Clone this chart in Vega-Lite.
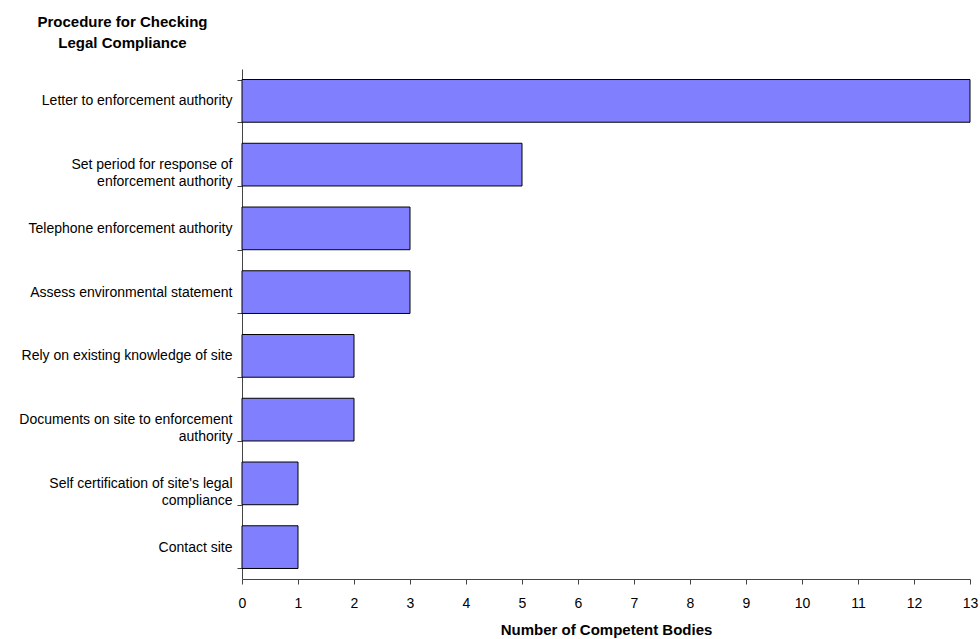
{
  "$schema": "https://vega.github.io/schema/vega-lite/v6.json",
  "width": 728,
  "height": 510,
  "autosize": {"type": "none"},
  "padding": {"left": 242, "top": 69, "right": 10, "bottom": 60},
  "background": "white",
  "config": {
    "view": {"stroke": null},
    "font": "Liberation Sans",
    "axis": {"grid": false, "domainColor": "#444", "tickColor": "#444", "labelColor": "black", "titleColor": "black", "labelFont": "Liberation Sans", "titleFont": "Liberation Sans", "labelFontSize": 14, "titleFontSize": 15, "titleFontWeight": "bold"}
  },
  "data": {
    "values": [
      {"procedure": "Letter to enforcement authority", "count": 13},
      {"procedure": "Set period for response of\nenforcement authority", "count": 5},
      {"procedure": "Telephone enforcement authority", "count": 3},
      {"procedure": "Assess environmental statement", "count": 3},
      {"procedure": "Rely on existing knowledge of site", "count": 2},
      {"procedure": "Documents on site to enforcement\nauthority", "count": 2},
      {"procedure": "Self certification of site's legal\ncompliance", "count": 1},
      {"procedure": "Contact site", "count": 1}
    ]
  },
  "mark": {"type": "bar", "color": "#8080FF", "stroke": "black", "strokeWidth": 1},
  "encoding": {
    "y": {
      "field": "procedure",
      "type": "nominal",
      "sort": null,
      "scale": {"paddingInner": 0.33, "paddingOuter": 0.165},
      "axis": {
        "title": ["Procedure for Checking", "Legal Compliance"],
        "titleAngle": 0,
        "titleAlign": "center",
        "titleBaseline": "alphabetic",
        "titleX": -120,
        "titleY": -43,
        "titleLineHeight": 21,
        "tickBand": "extent",
        "tickSize": 5,
        "labelPadding": 5,
        "labelAlign": "right",
        "labelLineHeight": 17,
        "labelExpr": "split(datum.label, '\\n')",
        "labelLimit": 300
      }
    },
    "x": {
      "field": "count",
      "type": "quantitative",
      "scale": {"domain": [0, 13], "nice": false},
      "axis": {
        "title": "Number of Competent Bodies",
        "values": [0,1,2,3,4,5,6,7,8,9,10,11,12,13],
        "tickSize": 5,
        "labelFlush": false,
        "labelPadding": 12,
        "titleY": 55,
        "titleBaseline": "alphabetic"
      }
    }
  }
}
